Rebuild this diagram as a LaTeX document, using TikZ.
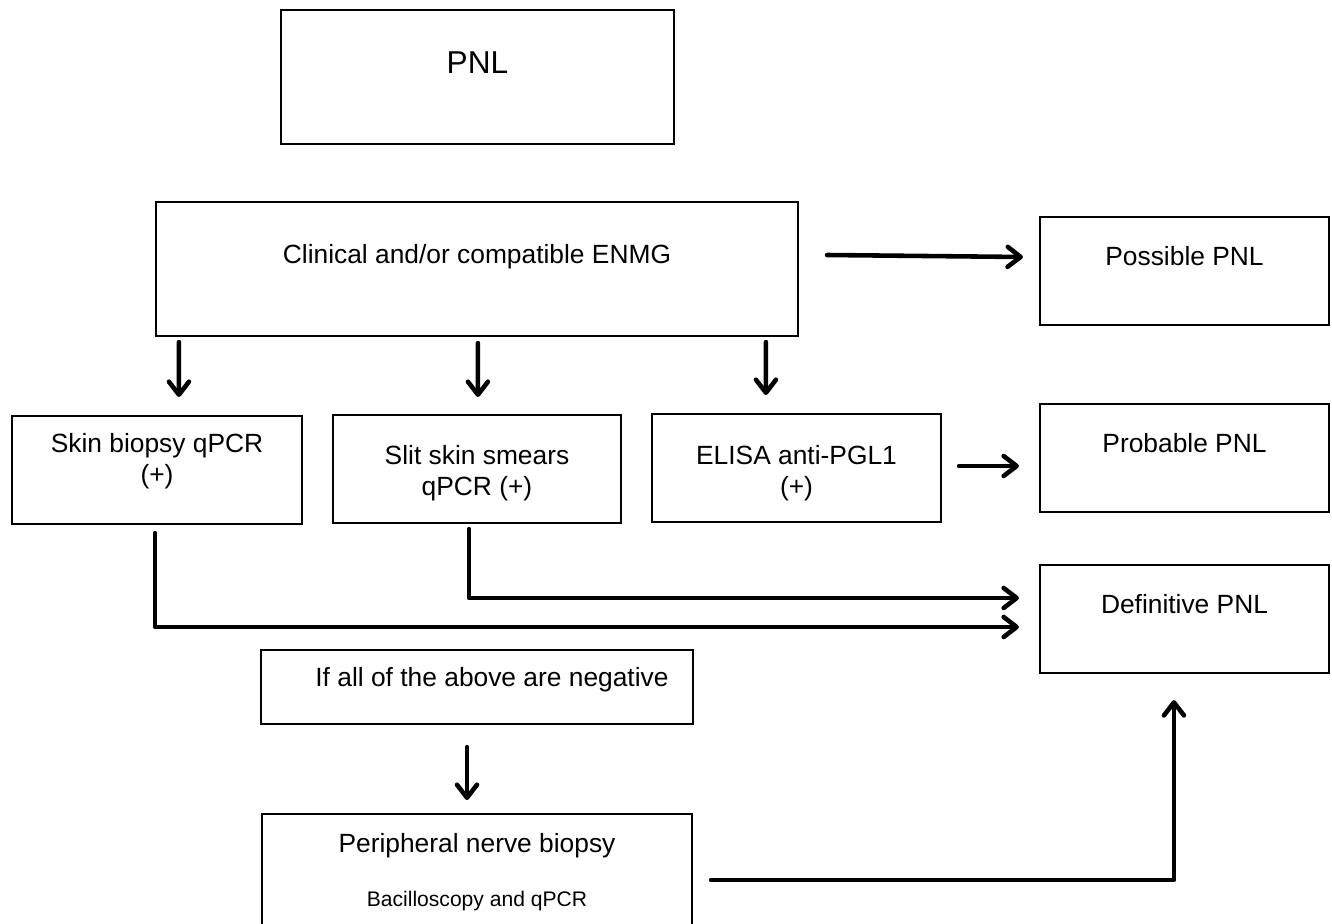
\documentclass[tikz,border=0pt]{standalone}
\usepackage{fontspec}
\setmainfont{Liberation Sans}
\usetikzlibrary{arrows.meta,positioning,calc}
\newcommand{\mainsz}{\fontsize{15}{17.6}\selectfont}
\newcommand{\bigsz}{\fontsize{18}{21}\selectfont}
\newcommand{\smallsz}{\fontsize{12}{14}\selectfont}
\tikzset{
  >={Straight Barb[length=2.6mm,width=4mm,round]},
  box/.style={draw=black, line width=1.2pt, inner sep=0pt, align=center,
    font=\mainsz, anchor=north},
  arr/.style={->, draw=black, line width=2.6pt, line cap=round, line join=round},
}

\begin{document}
\begin{tikzpicture}
  \tikzset{
    rbox/.style={box, minimum width=5.78cm, text height=0.96cm, text depth=1.2cm},
    tbox/.style 2 args={box, minimum width=5.78cm, text height=#1, text depth=#2},
  }
  \useasboundingbox (0,0) rectangle (26.64,-18.48);

  % ---------------- top ----------------
  \node[box, font=\bigsz, minimum width=7.86cm, text height=1.26cm, text depth=1.42cm]
    (pnl) at (9.55,-0.18) {PNL};
  \node[box, minimum width=12.84cm, text height=1.22cm, text depth=1.46cm]
    (clin) at (9.54,-4.02) {Clinical and/or compatible ENMG};
  \node[rbox] (poss) at (23.69,-4.32) {Possible PNL};
  \draw[arr] ($(clin.north east)+(0.56,-1.08)$) -- ($(poss.north west)+(-0.32,-0.82)$);

  % ---------------- tests ----------------
  \node[tbox={1.34cm}{0.82cm}, minimum width=5.80cm] (skin) at (3.14,-8.30) {Skin biopsy qPCR\\ (+)};
  \node[tbox={1.60cm}{0.56cm}, minimum width=5.76cm] (slit) at (9.54,-8.28) {Slit skin smears\\ qPCR (+)};
  \node[tbox={1.62cm}{0.54cm}] (elisa) at (15.93,-8.26) {ELISA anti-PGL1\\ (+)};
  \draw[arr] ($(clin.south west)+(0.48,-0.1)$) -- ($(skin.north west)+(3.36,0.36)$);
  \draw[arr] ($(clin.south west)+(6.46,-0.12)$) -- ($(slit.north west)+(2.92,0.34)$);
  \draw[arr] ($(clin.south west)+(12.22,-0.1)$) -- ($(elisa.north west)+(2.3,0.36)$);

  \node[rbox] (prob) at (23.69,-8.06) {Probable PNL};
  \node[rbox] (defi) at (23.69,-11.28) {Definitive PNL};
  \draw[arr] ($(elisa.north east)+(0.34,-1.06)$) -- ($(prob.north west)+(-0.4,-1.26)$);
  \draw[arr] ($(slit.south west)+(2.74,-0.1)$) |- ($(defi.north west)+(-0.4,-0.68)$);
  \draw[arr] ($(skin.south west)+(2.88,-0.16)$) |- ($(defi.north west)+(-0.4,-1.26)$);

  % ---------------- negative ----------------
  \node[box, minimum width=8.64cm, text height=0.72cm, text depth=0.76cm]
    (neg) at (9.54,-12.98) {\hspace*{6mm}If all of the above are negative};
  \node[box, minimum width=8.60cm, text height=1.84cm, text depth=0.50cm]
    (nerve) at (9.54,-16.26) {Peripheral nerve biopsy\\[13pt] {\smallsz Bacilloscopy and qPCR}};
  \draw[arr] ($(neg.south)+(-0.2,-0.44)$) -- ($(nerve.north)+(-0.2,0.26)$);
  \draw[arr] ($(nerve.north east)+(0.36,-1.34)$) -| ($(defi.south west)+(2.7,-0.52)$);
\end{tikzpicture}
\end{document}
